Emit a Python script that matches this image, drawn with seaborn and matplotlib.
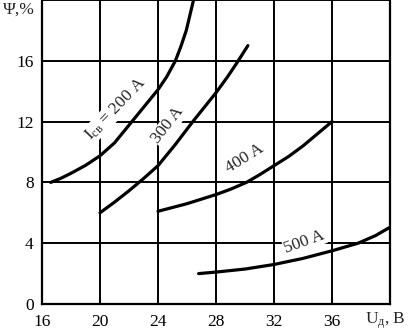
import pandas as pd
import matplotlib
matplotlib.use("Agg")
import matplotlib.pyplot as plt
import seaborn as sns

# значения
u_200 = [16.6, 17.3, 18.0, 19.0, 20.0, 21.0, 22.2, 23.1, 24.0, 24.6, 25.2, 25.6, 25.95, 26.2, 26.45]
psi_200 = [8.0, 8.27, 8.6, 9.12, 9.75, 10.6, 12.0, 13.05, 14.1, 14.95, 16.0, 17.0, 18.0, 19.0, 20.0]

u_300 = [20.0, 21.0, 22.0, 23.0, 24.0, 25.2, 26.4, 27.2, 28.0, 28.8, 29.5, 30.2]
psi_300 = [6.0, 6.7, 7.45, 8.25, 9.1, 10.5, 12.0, 12.95, 13.9, 14.95, 15.95, 17.0]

u_400 = [24.0, 25.0, 26.0, 27.0, 28.0, 29.0, 30.1, 31.0, 32.0, 33.0, 34.0, 35.0, 36.0]
psi_400 = [6.1, 6.35, 6.6, 6.9, 7.2, 7.55, 8.0, 8.5, 9.1, 9.7, 10.4, 11.2, 12.0]

u_500 = [26.8, 28.0, 30.0, 32.0, 34.0, 36.0, 37.8, 39.0, 40.0]
psi_500 = [2.0, 2.1, 2.3, 2.6, 3.0, 3.5, 4.0, 4.5, 5.05]

x_ticks = [16, 20, 24, 28, 32, 36, 40]
x_tick_labels = ["16", "20", "24", "28", "32", "36", ""]
y_ticks = [0, 4, 8, 12, 16]

curve_labels = ["I$_{\\mathrm{св}}$ = 200 A", "300 A", "400 A", "500 A"]
x_name = "U$_{\\mathrm{д}}$, В"
y_name = "Ψ,%"

frames = []
for name, u, psi in [("200", u_200, psi_200), ("300", u_300, psi_300),
                     ("400", u_400, psi_400), ("500", u_500, psi_500)]:
    frames.append(pd.DataFrame({"U": u, "Psi": psi, "I": name}))
df = pd.concat(frames, ignore_index=True)

sns.set_style("white")
plt.rcParams["font.family"] = ["Liberation Serif", "DejaVu Serif"]
plt.rcParams["mathtext.fontset"] = "custom"
plt.rcParams["mathtext.rm"] = "Liberation Serif"
plt.rcParams["mathtext.it"] = "Liberation Serif:italic"

fig = plt.figure(figsize=(4.1, 3.31), dpi=100)
ax = fig.add_axes([42 / 410, 27 / 331, 348 / 410, 304 / 331])

sns.lineplot(data=df, x="U", y="Psi", hue="I", units="I", estimator=None, sort=False,
             palette=["black"] * 4, linewidth=2.3, legend=False, ax=ax, zorder=4)

ax.set_xlim(16, 40)
ax.set_ylim(0, 20)
ax.set_xticks(x_ticks)
ax.set_xticklabels(x_tick_labels)
ax.set_yticks(y_ticks)
ax.set_yticks([20], minor=True)
ax.tick_params(axis="both", length=0, labelsize=12.5, colors="black")
ax.tick_params(axis="x", pad=7)
ax.tick_params(axis="y", pad=6)
ax.grid(True, which="both", color="black", linewidth=1.4)
ax.set_axisbelow(True)
for side in ["left", "bottom", "right"]:
    ax.spines[side].set_color("black")
    ax.spines[side].set_linewidth(1.6)
ax.spines["top"].set_visible(False)
ax.set_xlabel("")
ax.set_ylabel("")

# подписи кривых
box = dict(facecolor="white", edgecolor="none", pad=0.6)
ax.text(21.1, 12.85, curve_labels[0], rotation=46, ha="center", va="center",
        fontsize=12.5, bbox=box, zorder=3)
ax.text(24.7, 11.75, curve_labels[1], rotation=52, ha="center", va="center",
        fontsize=12.5, bbox=box, zorder=3)
ax.text(30.0, 9.6, curve_labels[2], rotation=32, ha="center", va="center",
        fontsize=12.5, bbox=box, zorder=3)
ax.text(34.1, 4.1, curve_labels[3], rotation=20, ha="center", va="center",
        fontsize=12.5, bbox=box, zorder=3)

# подписи осей
ax.text(15.52, 19.35, y_name, ha="right", va="center", fontsize=12.5, clip_on=False)
ax.text(406 / 410, 1 - 310 / 331, x_name, transform=fig.transFigure,
        ha="right", va="top", fontsize=12.5)

fig.savefig("out.png", dpi=100)
